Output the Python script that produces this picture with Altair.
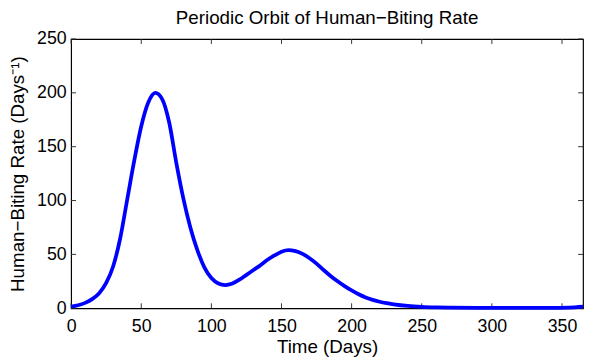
import altair as alt
import pandas as pd

days = [0, 5, 10, 15, 20, 25, 30, 35, 40, 45, 50, 55, 60, 65, 70, 75, 80, 85, 90, 95,
        100, 105, 110, 115, 120, 125, 130, 135, 140, 145, 150, 155, 160, 165, 170, 175,
        180, 185, 190, 195, 200, 205, 210, 215, 220, 225, 230, 240, 250, 260, 270, 290,
        320, 340, 355, 365]
rate = [1.6, 2.8, 5, 8.5, 14, 23.5, 39, 65, 101, 137, 169, 191, 200, 194, 172, 135, 102, 75, 54, 38,
        28, 23, 21.5, 23, 26.5, 31, 35.5, 40, 45, 49, 52.5, 54, 53, 50.5, 46.5, 41.5,
        35.5, 30, 25, 20.5, 16.5, 13, 10, 7.8, 6, 4.7, 3.7, 2.2, 1.3, 0.8, 0.5, 0.3,
        0.3, 0.4, 0.7, 1.6]
x_ticks = [0, 50, 100, 150, 200, 250, 300, 350]
y_ticks = [0, 50, 100, 150, 200, 250]

FONT = "Liberation Sans"
W, H = 519, 273

df = pd.DataFrame({"day": days, "rate": rate})
xt = pd.DataFrame({"t": x_ticks})
yt = pd.DataFrame({"t": y_ticks})

xscale = alt.Scale(domain=[0, 365], nice=False, zero=False)
yscale = alt.Scale(domain=[0, 250], nice=False)

line = alt.Chart(df).mark_line(color="#0000FF", strokeWidth=3.8, interpolate="monotone").encode(
    x=alt.X("day:Q", scale=xscale,
            axis=alt.Axis(values=x_ticks, title="Time (Days)", ticks=False, tickSize=0,
                          labelPadding=10, labelFontSize=18, labelFont=FONT, labelColor="black",
                          titleFont=FONT, titleFontSize=19, titleFontWeight="normal",
                          titleColor="black", titlePadding=2, grid=False, domain=False,
                          labelFlush=False)),
    y=alt.Y("rate:Q", scale=yscale,
            axis=alt.Axis(values=y_ticks, title="Human−Biting Rate (Days⁻¹)", ticks=False,
                          tickSize=0, labelPadding=5, labelFontSize=18, labelFont=FONT,
                          labelColor="black", titleFont=FONT, titleFontSize=19,
                          titleFontWeight="normal", titleColor="black", titlePadding=9,
                          grid=False, domain=False, labelFlush=False)),
)

tick_len = 5
xb = alt.Chart(xt).mark_rule(color="#333333", strokeWidth=1).encode(
    x=alt.X("t:Q", scale=xscale), y=alt.value(H), y2=alt.value(H - tick_len))
xtop = alt.Chart(xt).mark_rule(color="#333333", strokeWidth=1).encode(
    x=alt.X("t:Q", scale=xscale), y=alt.value(0), y2=alt.value(tick_len))
yl = alt.Chart(yt).mark_rule(color="#333333", strokeWidth=1).encode(
    y=alt.Y("t:Q", scale=yscale), x=alt.value(0), x2=alt.value(tick_len))
yr = alt.Chart(yt).mark_rule(color="#333333", strokeWidth=1).encode(
    y=alt.Y("t:Q", scale=yscale), x=alt.value(W), x2=alt.value(W - tick_len))

chart = alt.layer(xb, xtop, yl, yr, line).properties(
    width=W, height=H,
    background="white",
    title=alt.TitleParams("Periodic Orbit of Human−Biting Rate", font=FONT, fontSize=19,
                          fontWeight="normal", color="black", anchor="middle", offset=2),
    autosize=alt.AutoSizeParams(type="none"),
    padding={"left": 64, "top": 29, "right": 2, "bottom": 47},
).configure_view(stroke="black", strokeWidth=1.2)

chart.save("out.html", embed_options={"renderer": "svg", "actions": False})
